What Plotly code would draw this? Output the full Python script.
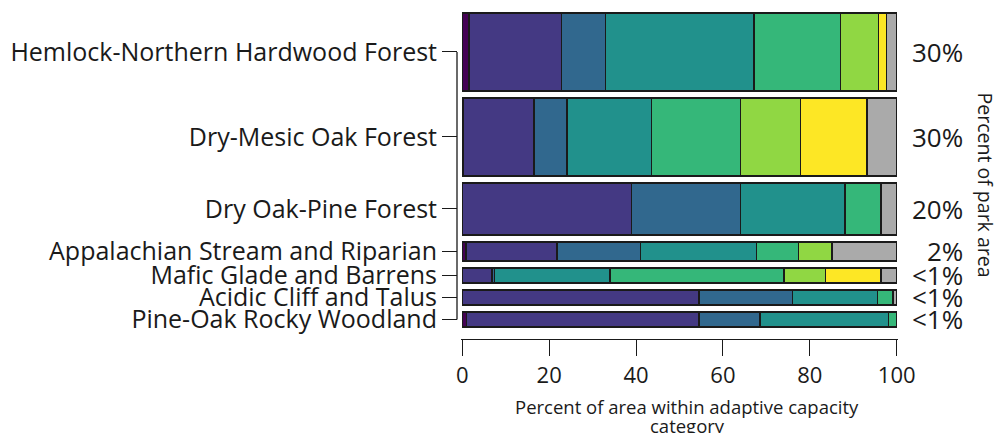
import plotly.graph_objects as go

# ---------------- data ----------------
communities = [
    "Hemlock-Northern Hardwood Forest",
    "Dry-Mesic Oak Forest",
    "Dry Oak-Pine Forest",
    "Appalachian Stream and Riparian",
    "Mafic Glade and Barrens",
    "Acidic Cliff and Talus",
    "Pine-Oak Rocky Woodland",
]
park_area_labels = ["30%", "30%", "20%", "2%", "<1%", "<1%", "<1%"]
bar_thickness = [30, 30, 20, 7.3, 5.8, 5.8, 5.8]

category_names = ["Category 1", "Category 2", "Category 3", "Category 4",
                  "Category 5", "Category 6", "Category 7", "Not assessed"]
cat1 = [1.5, 0.3, 0.0, 0.8, 0.0, 0.0, 1.0]
cat2 = [21.3, 16.2, 39.0, 21.0, 6.8, 54.5, 53.5]
cat3 = [10.2, 7.6, 25.0, 19.2, 0.6, 21.5, 14.0]
cat4 = [34.1, 19.5, 24.1, 26.7, 26.6, 19.6, 29.6]
cat5 = [20.0, 20.4, 8.3, 9.7, 40.1, 3.5, 1.9]
cat6 = [8.7, 13.9, 0.0, 7.7, 9.5, 0.0, 0.0]
cat7 = [1.8, 15.3, 0.0, 0.0, 12.8, 0.0, 0.0]
cat8 = [2.4, 6.8, 3.6, 14.9, 3.6, 0.9, 0.0]
series = [cat1, cat2, cat3, cat4, cat5, cat6, cat7, cat8]

x_ticks = [0, 20, 40, 60, 80, 100]

# ---------------- style ----------------
colors = ["#440154", "#443983", "#31688E", "#21918C", "#35B779",
          "#90D743", "#FDE725", "#AAAAAA"]
FONT = "Open Sans"
INK = "#1a1a1a"

# layout geometry in y-units (1 unit = bar thickness unit)
gap = 7 / 2.6
top_pad = 3 / 2.6
bottom_pad = 12 / 2.6

centers = []
pos = top_pad
for h in bar_thickness:
    centers.append(pos + h / 2)
    pos += h + gap
y_end = pos - gap + bottom_pad

fig = go.Figure()
for name, vals, col in zip(category_names, series, colors):
    fig.add_trace(go.Bar(
        y=centers, x=vals, width=bar_thickness, orientation="h", name=name,
        marker=dict(color=col, line=dict(color=INK, width=1.5)),
        showlegend=False, hoverinfo="x+name",
    ))

L, R, T, B = 454, 101, 10, 94
W, H = 999, 433
pw = W - L - R
ph = H - T - B

fig.update_layout(
    width=W, height=H, barmode="stack",
    margin=dict(l=L, r=R, t=T, b=B),
    paper_bgcolor="white", plot_bgcolor="white",
    font=dict(family=FONT, color=INK),
    xaxis=dict(
        domain=[4 / pw, 1], range=[-0.3, 100.3],
        tickvals=x_ticks, ticktext=[str(v) for v in x_ticks],
        ticks="outside", ticklen=16, tickwidth=1.3, tickcolor=INK,
        showline=True, linecolor=INK, linewidth=1.3,
        showgrid=False, zeroline=False,
        tickfont=dict(size=22, family=FONT, color=INK),
        ticklabelstandoff=0,
    ),
    yaxis=dict(
        anchor="free", position=0,
        range=[y_end, 0],
        tickvals=centers, ticktext=communities,
        ticks="outside", ticklen=15, tickwidth=1.3, tickcolor=INK,
        showline=False, showgrid=False, zeroline=False,
        tickfont=dict(size=25, family=FONT, color=INK),
    ),
)

# y axis line from first to last tick
fig.add_shape(type="line", xref="paper", yref="y", x0=0, x1=0,
              y0=centers[0], y1=centers[-1], line=dict(color=INK, width=1.3))

for c, lab in zip(centers, park_area_labels):
    fig.add_annotation(x=(965 - L) / pw, y=c, xref="paper", yref="y", text=lab,
                       showarrow=False, xanchor="right", yanchor="middle",
                       font=dict(size=26, family=FONT, color=INK))

fig.add_annotation(x=(987 - L) / pw, y=(339 - 185) / ph, xref="paper", yref="paper",
                   text="Percent of park area", textangle=90, showarrow=False,
                   xanchor="center", yanchor="middle",
                   font=dict(size=19.5, family=FONT, color=INK))

fig.add_annotation(x=(685.7 - L) / pw, y=(339 - 406) / ph, xref="paper", yref="paper",
                   text="Percent of area within adaptive capacity", showarrow=False,
                   xanchor="center", yanchor="middle",
                   font=dict(size=18.5, family=FONT, color=INK))
fig.add_annotation(x=(685.7 - L) / pw, y=(339 - 425) / ph, xref="paper", yref="paper",
                   text="category", showarrow=False,
                   xanchor="center", yanchor="middle",
                   font=dict(size=18.5, family=FONT, color=INK))

fig.write_html("out.html", config={"displayModeBar": False},
               post_script="document.body.style.margin='0';")
